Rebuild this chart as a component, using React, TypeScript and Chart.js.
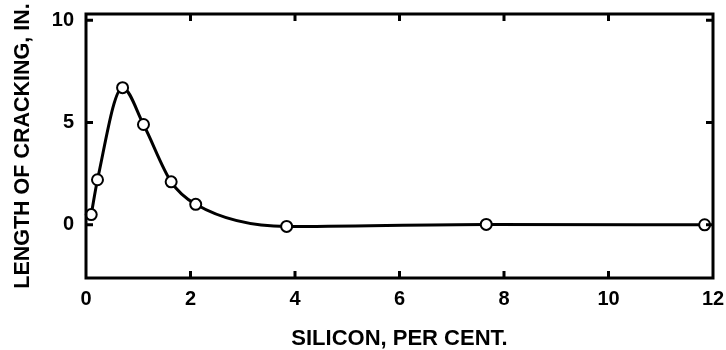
import React, { useEffect, useRef } from "react";
import { Chart, registerables } from "chart.js";

Chart.register(...registerables);

// Silicon content (%) and measured crack length (in.)
const siliconPct = [0.1, 0.22, 0.7, 1.1, 1.63, 2.1, 3.84, 7.66, 11.84];
const crackLength = [0.5, 2.2, 6.7, 4.9, 2.1, 1.0, -0.08, 0.02, 0.0];

const xTicks = [0, 2, 4, 6, 8, 10, 12];
const yTicks = [0, 5, 10];

const xTitle = "SILICON, PER CENT.";
const yTitle = "LENGTH OF CRACKING, IN.";

const FONT = "'Liberation Sans', Arial, Helvetica, sans-serif";

// Draws the heavy frame round the plot area and short inward tick marks on all four sides.
const framePlugin = {
  id: "frameTicks",
  afterDraw(chart: any) {
    const { ctx, chartArea, scales } = chart;
    const { left, right, top, bottom } = chartArea;
    const len = 7;
    ctx.save();
    ctx.strokeStyle = "#000";
    ctx.lineWidth = 3;
    ctx.lineCap = "butt";
    for (const v of xTicks) {
      if (v === xTicks[0] || v === xTicks[xTicks.length - 1]) continue;
      const px = scales.x.getPixelForValue(v);
      ctx.beginPath();
      ctx.moveTo(px, bottom);
      ctx.lineTo(px, bottom - len);
      ctx.moveTo(px, top);
      ctx.lineTo(px, top + len);
      ctx.stroke();
    }
    for (const v of yTicks) {
      const py = scales.y.getPixelForValue(v);
      ctx.beginPath();
      ctx.moveTo(left, py);
      ctx.lineTo(left + len, py);
      ctx.moveTo(right, py);
      ctx.lineTo(right - len, py);
      ctx.stroke();
    }
    ctx.strokeRect(left, top, right - left, bottom - top);
    ctx.restore();
  },
};

export default function App() {
  const canvasRef = useRef<HTMLCanvasElement | null>(null);

  useEffect(() => {
    document.body.style.margin = "0";
    const canvas = canvasRef.current;
    if (!canvas) return;

    const chart = new Chart(canvas, {
      type: "scatter",
      data: {
        datasets: [
          {
            data: siliconPct.map((x, i) => ({ x, y: crackLength[i] })),
            showLine: true,
            cubicInterpolationMode: "monotone",
            borderColor: "#000",
            borderWidth: 3,
            pointRadius: 5.5,
            pointBackgroundColor: "#fff",
            pointBorderColor: "#000",
            pointBorderWidth: 2,
            clip: false,
          },
        ],
      },
      options: {
        responsive: false,
        animation: false,
        events: [],
        layout: { padding: { top: 14, right: 13, left: 0, bottom: 0 } },
        plugins: {
          legend: { display: false },
          tooltip: { enabled: false },
        },
        scales: {
          x: {
            type: "linear",
            min: 0,
            max: 12,
            afterBuildTicks: (scale: any) => {
              scale.ticks = xTicks.map((value) => ({ value }));
            },
            afterFit: (scale: any) => {
              scale.height = 72;
              scale.paddingLeft = 0;
              scale.paddingRight = 0;
            },
            grid: { display: false, drawTicks: false },
            border: { display: false },
            ticks: {
              color: "#000",
              padding: 9,
              maxRotation: 0,
              font: { family: FONT, size: 20, weight: "bold" },
            },
            title: {
              display: true,
              text: xTitle,
              color: "#000",
              padding: { top: 0, bottom: 0 },
              font: { family: FONT, size: 22, weight: "bold", lineHeight: 1 },
            },
          },
          y: {
            type: "linear",
            min: -2.6,
            max: 10.3,
            afterBuildTicks: (scale: any) => {
              scale.ticks = yTicks.map((value) => ({ value }));
            },
            afterFit: (scale: any) => {
              scale.width = 86;
              scale.paddingTop = 0;
              scale.paddingBottom = 0;
            },
            grid: { display: false, drawTicks: false },
            border: { display: false },
            ticks: {
              color: "#000",
              padding: 12,
              font: { family: FONT, size: 20, weight: "bold" },
            },
            title: {
              display: true,
              text: yTitle,
              color: "#000",
              padding: { top: 12, bottom: 0 },
              font: { family: FONT, size: 21.5, weight: "bold", lineHeight: 1 },
            },
          },
        },
      },
      plugins: [framePlugin],
    });

    return () => chart.destroy();
  }, []);

  return (
    <div style={{ width: 726, height: 350, background: "#fff" }}>
      <canvas ref={canvasRef} width={726} height={350} />
    </div>
  );
}
